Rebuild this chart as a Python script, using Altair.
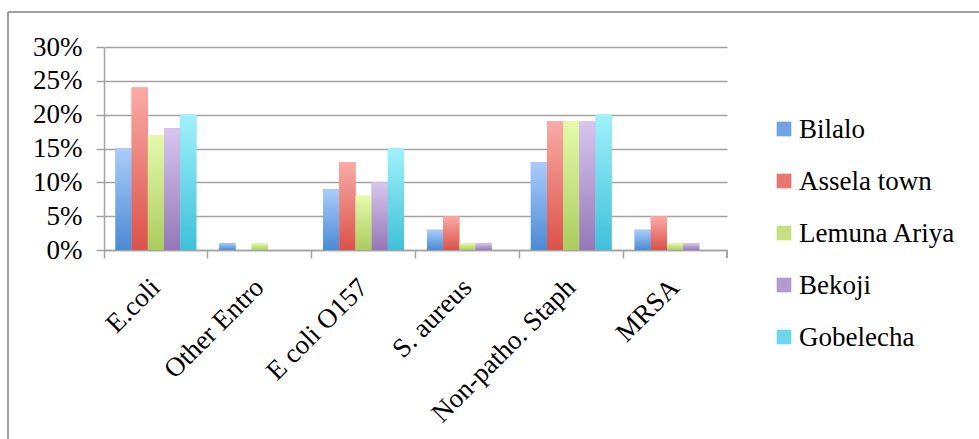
import altair as alt
import pandas as pd

categories = ["E.coli", "Other Entro", "E coli O157", "S. aureus", "Non-patho. Staph", "MRSA"]
series = ["Bilalo", "Assela town", "Lemuna Ariya", "Bekoji", "Gobelecha"]

bilalo = [0.15, 0.01, 0.09, 0.03, 0.13, 0.03]
assela = [0.24, 0.00, 0.13, 0.05, 0.19, 0.05]
lemuna = [0.17, 0.01, 0.08, 0.01, 0.19, 0.01]
bekoji = [0.18, 0.00, 0.10, 0.01, 0.19, 0.01]
gobelecha = [0.20, 0.00, 0.15, 0.00, 0.20, 0.00]

solid = ["#6FA3E3", "#EA7670", "#C5E07E", "#B29BD2", "#6ED6EA"]
tops = ["#ABCCFB", "#FBAAA6", "#E5FAAB", "#D8C5EF", "#A0F1FB"]
bottoms = ["#4A8AD4", "#DA524A", "#ABCC5E", "#9577B8", "#3FC0D8"]

values = [bilalo, assela, lemuna, bekoji, gobelecha]
rows = []
for s, vals in zip(series, values):
    for c, v in zip(categories, vals):
        rows.append({"Organism": c, "Site": s, "Value": v})
df = pd.DataFrame(rows)
legend_df = pd.DataFrame({"Site": series})

FONT = "Liberation Serif"
GRID = "#A3A3A3"

x_enc = alt.X(
    "Organism:N",
    sort=categories,
    title=None,
    scale=alt.Scale(paddingInner=0, paddingOuter=0),
    axis=alt.Axis(
        bandPosition=0,
        labelAngle=-45,
        labelAlign="right",
        labelBaseline="middle",
        labelPadding=25,
        labelLimit=400,
        labelFontSize=27,
        labelFont=FONT,
        labelColor="#000000",
        tickSize=8,
        tickColor=GRID,
        tickWidth=1.5,
        domainColor=GRID,
        domainWidth=1.5,
        grid=False,
    ),
)
xoff_enc = alt.XOffset(
    "Site:N",
    sort=series,
    scale=alt.Scale(domain=series, paddingInner=0, paddingOuter=0.71),
)
y_enc = alt.Y(
    "Value:Q",
    title=None,
    scale=alt.Scale(domain=[0, 0.3], nice=False),
    axis=alt.Axis(
        values=[0, 0.05, 0.1, 0.15, 0.2, 0.25, 0.3],
        format=".0%",
        labelFontSize=27,
        labelFont=FONT,
        labelColor="#000000",
        labelPadding=14,
        tickSize=8,
        tickColor=GRID,
        tickWidth=1.5,
        domainColor=GRID,
        domainWidth=1.5,
        gridColor=GRID,
        gridWidth=1.5,
    ),
)
color_scale = alt.Scale(domain=series, range=solid)

base = alt.Chart(df).mark_bar().encode(
    x=x_enc,
    xOffset=xoff_enc,
    y=y_enc,
    color=alt.Color("Site:N", sort=series, scale=color_scale, legend=None),
)

bar_layers = [base]
for s, t, b in zip(series, tops, bottoms):
    grad = alt.Gradient(
        gradient="linear",
        x1=0, y1=0, x2=0, y2=1,
        stops=[alt.GradientStop(offset=0, color=t), alt.GradientStop(offset=1, color=b)],
    )
    bar_layers.append(
        alt.Chart(df)
        .transform_filter(alt.datum.Site == s)
        .mark_bar(color=grad)
        .encode(x=x_enc, xOffset=xoff_enc, y=y_enc)
    )

# last x tick at right end of axis
end_tick = alt.Chart(df).mark_rule(color=GRID, strokeWidth=1.5).encode(
    x=alt.value(623), y=alt.value(203), y2=alt.value(211)
)
# outer frame of the chart area (top and left edges)
frame_top = alt.Chart(df).mark_rule(color="#A0A0A0", strokeWidth=2).encode(
    x=alt.value(-96), x2=alt.value(900), y=alt.value(-35)
)
frame_left = alt.Chart(df).mark_rule(color="#A0A0A0", strokeWidth=2).encode(
    x=alt.value(-96), y=alt.value(-35), y2=alt.value(420)
)

plot = alt.layer(*bar_layers, end_tick, frame_top, frame_left)

# legend drawn as marks
leg_y = alt.Y(
    "Site:N",
    sort=series,
    scale=alt.Scale(type="point", range=[82, 290], padding=0),
    axis=None,
)
leg_sym = alt.Chart(legend_df).mark_square(size=215, opacity=1).encode(
    x=alt.value(680),
    y=leg_y,
    color=alt.Color("Site:N", sort=series, scale=color_scale, legend=None),
)
leg_txt = alt.Chart(legend_df).mark_text(
    align="left", baseline="middle", font=FONT, fontSize=27, color="#000000", dy=1
).encode(x=alt.value(695), y=leg_y, text="Site:N")
legend = alt.layer(leg_sym, leg_txt)

chart = (
    alt.layer(plot, legend)
    .resolve_scale(y="independent")
    .properties(
        width=623,
        height=203,
        autosize=alt.AutoSizeParams(type="none"),
        padding={"left": 104, "top": 47, "right": 252, "bottom": 189},
    )
    .configure_view(strokeWidth=0)
)

chart.save("out.html", embed_options={"renderer": "svg", "actions": False})
